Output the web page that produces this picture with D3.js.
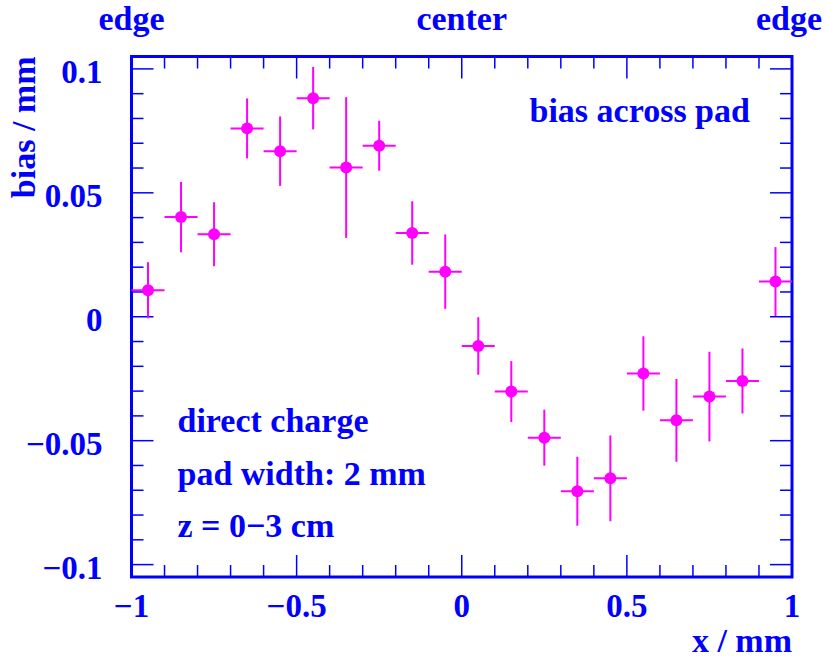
<!DOCTYPE html>
<html>
<head>
<meta charset="utf-8">
<script src="https://cdn.jsdelivr.net/npm/d3@7"></script>
<style>
body {margin: 0; background: #fff;}
text {font-family: 'Liberation Serif', 'Times New Roman', serif; font-weight: bold; fill: #00f;}
</style>
</head>
<body>
<div id="chart"></div>
<script>
var blue = '#0000ff'
var magenta = '#ff00ff'

// bin centres, x / mm
var xs = [-0.95, -0.85, -0.75, -0.65, -0.55, -0.45, -0.35, -0.25, -0.15, -0.05,
  0.05, 0.15, 0.25, 0.35, 0.45, 0.55, 0.65, 0.75, 0.85, 0.95]
var binHalf = 0.05

// bias / mm
var bias = [0.0107, 0.0402, 0.0333, 0.0760, 0.0668, 0.0882, 0.0602, 0.0690, 0.0338, 0.0182,
  -0.0118, -0.0302, -0.0488, -0.0704, -0.0652, -0.0229, -0.0418, -0.0322, -0.0259, 0.0142]
var err = [0.0113, 0.0142, 0.0129, 0.0121, 0.0140, 0.0126, 0.0284, 0.0101, 0.0128, 0.0150,
  0.0116, 0.0123, 0.0113, 0.0139, 0.0173, 0.0150, 0.0167, 0.0181, 0.0131, 0.0139]

var xTicks = [-1, -0.5, 0, 0.5, 1]
var yTicks = [-0.1, -0.05, 0, 0.05, 0.1]
var topLabels = [{x: -1, text: 'edge'}, {x: 0, text: 'center'}, {x: 1, text: 'edge'}]
var notes = ['direct charge', 'pad width: 2 mm', 'z = 0\u22123 cm']

var width = 827, height = 659
var margin = {left: 131.5, right: 35, top: 56.5, bottom: 82}
var w = width - margin.left - margin.right
var h = height - margin.top - margin.bottom

var svg = d3.select('#chart').append('svg')
  .attr('width', width).attr('height', height)

var g = svg.append('g')
  .attr('transform', `translate(${margin.left},${margin.top})`)

var x = d3.scaleLinear().domain([-1, 1]).range([0, w])
var y = d3.scaleLinear().domain([-0.105, 0.105]).range([h, 0])

var fmt = d => d == 0 ? '0' : (d < 0 ? '\u2212' : '') + Math.abs(d)

// ticks on all four sides, pointing inward
var xMinor = d3.range(-10, 11).map(d => d / 10)
var yMinor = d3.range(-10, 11).map(d => d / 100)
var isMajorX = d => Math.abs(d * 2 - Math.round(d * 2)) < 1e-9
var isMajorY = d => Math.abs(d * 20 - Math.round(d * 20)) < 1e-9
var tickLen = d => d ? 22 : 12

var ticks = g.append('g').attr('stroke', blue).attr('stroke-width', 1.5)

ticks.selectAll('line.xb').data(xMinor).join('line')
  .attr('x1', d => x(d)).attr('x2', d => x(d))
  .attr('y1', h).attr('y2', d => h - tickLen(isMajorX(d)))
ticks.selectAll('line.xt').data(xMinor).join('line')
  .attr('x1', d => x(d)).attr('x2', d => x(d))
  .attr('y1', 0).attr('y2', d => tickLen(isMajorX(d)))
ticks.selectAll('line.yl').data(yMinor).join('line')
  .attr('y1', d => y(d)).attr('y2', d => y(d))
  .attr('x1', 0).attr('x2', d => tickLen(isMajorY(d)))
ticks.selectAll('line.yr').data(yMinor).join('line')
  .attr('y1', d => y(d)).attr('y2', d => y(d))
  .attr('x1', w).attr('x2', d => w - tickLen(isMajorY(d)))

g.append('rect')
  .attr('width', w).attr('height', h)
  .attr('fill', 'none').attr('stroke', blue).attr('stroke-width', 3)

// tick labels
g.selectAll('text.xl').data(xTicks).join('text')
  .attr('x', d => x(d)).attr('y', h + 39.5)
  .attr('text-anchor', 'middle').style('font-size', '33px')
  .text(fmt)

g.selectAll('text.yl').data(yTicks).join('text')
  .attr('x', -29).attr('y', d => y(d) + 14)
  .attr('text-anchor', 'end').style('font-size', '33px')
  .text(fmt)

g.selectAll('text.top').data(topLabels).join('text')
  .attr('x', d => x(d.x) - (d.x == 1 ? 3 : 0)).attr('y', 30 - margin.top)
  .attr('text-anchor', 'middle').style('font-size', '34px')
  .text(d => d.text)

// axis titles
g.append('text')
  .attr('x', w).attr('y', 652 - margin.top)
  .attr('text-anchor', 'end').style('font-size', '34px')
  .text('x / mm')

g.append('text')
  .attr('transform', `translate(${35 - margin.left},0) rotate(-90)`)
  .attr('text-anchor', 'end').style('font-size', '34px')
  .text('bias / mm')

// labels inside the frame
g.append('text')
  .attr('x', 529.5 - margin.left).attr('y', 122.3 - margin.top)
  .style('font-size', '34px')
  .text('bias across pad')

g.selectAll('text.note').data(notes).join('text')
  .attr('x', 177.5 - margin.left).attr('y', (d, i) => 432.3 - margin.top + i * 52.2)
  .style('font-size', '34px')
  .text(d => d)

// points with error bars
var pts = g.append('g').selectAll('g').data(xs.map((d, i) => ({x: d, y: bias[i], e: err[i]})))
  .join('g')

pts.append('line')
  .attr('x1', d => x(d.x - binHalf)).attr('x2', d => x(d.x + binHalf))
  .attr('y1', d => y(d.y)).attr('y2', d => y(d.y))
  .attr('stroke', magenta).attr('stroke-width', 2)

pts.append('line')
  .attr('x1', d => x(d.x)).attr('x2', d => x(d.x))
  .attr('y1', d => y(d.y - d.e)).attr('y2', d => y(d.y + d.e))
  .attr('stroke', magenta).attr('stroke-width', 2)

pts.append('circle')
  .attr('cx', d => x(d.x)).attr('cy', d => y(d.y))
  .attr('r', 6).attr('fill', magenta)
</script>
</body>
</html>
